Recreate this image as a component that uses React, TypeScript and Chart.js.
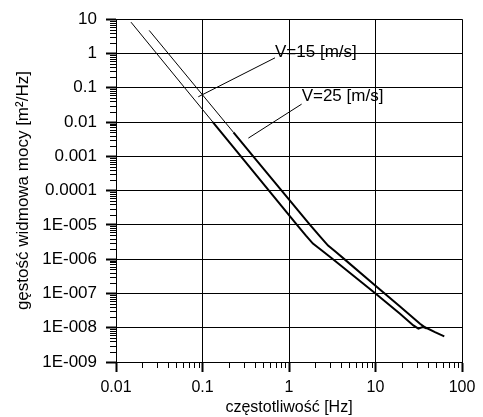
import React, { useEffect, useRef } from "react";
import { Chart, registerables } from "chart.js";

Chart.register(...registerables);

// ---- data ----
const seriesLabels = ["V=15 [m/s]", "V=25 [m/s]"];

const freq15 = [0.0149, 0.0622, 0.1316, 0.278, 1.23, 1.57, 1.89, 2.28, 3.12, 10, 19.2, 27.4, 31.3, 35.0, 39.1, 48.7, 62.4];
const psd15 = [8.2, 0.1, 0.01, 0.001, 1.02e-5, 4.84e-6, 2.84e-6, 1.97e-6, 1.06e-6, 1e-7, 2.55e-8, 1.17e-8, 9.4e-9, 1.05e-8, 9.8e-9, 7.4e-9, 5.6e-9];

const freq25 = [0.0242, 0.0855, 0.228, 0.386, 1.75, 2.28, 2.83, 3.49, 4.43, 10, 19.2, 32.7, 39.1];
const psd25 = [4.71, 0.1, 0.005, 0.001, 1e-5, 4.59e-6, 2.49e-6, 1.61e-6, 9.7e-7, 1.68e-7, 4.15e-8, 1.31e-8, 9.4e-9];

// annotation leaders: [f0, S0, f1, S1]
const leader15 = [0.689, 0.746, 0.0894, 0.0546];
const leader25 = [1.4, 0.0333, 0.339, 0.0034];
// annotation text anchors (left, baseline): [f, S]
const text15 = [0.689, 0.8];
const text25 = [1.4, 0.04];

const xTickValues = [0.01, 0.1, 1, 10, 100];
const xTickLabels = ["0.01", "0.1", "1", "10", "100"];
const yTickValues = [1e-9, 1e-8, 1e-7, 1e-6, 1e-5, 1e-4, 1e-3, 1e-2, 1e-1, 1, 10];
const yTickLabels = ["1E-009", "1E-008", "1E-007", "1E-006", "1E-005", "0.0001", "0.001", "0.01", "0.1", "1", "10"];

const xTitle = "częstotliwość [Hz]";
const yTitle = "gęstość widmowa mocy [m²/Hz]";

const FONT = "'Liberation Sans', Arial, sans-serif";

function toPoints(xs: number[], ys: number[]) {
  return xs.map((x, i) => ({ x, y: ys[i] }));
}

const extrasPlugin = {
  id: "extras",
  afterDraw(chart: any) {
    const ctx = chart.ctx as CanvasRenderingContext2D;
    const xs = chart.scales.x;
    const ys = chart.scales.y;
    const area = chart.chartArea;
    ctx.save();
    ctx.strokeStyle = "#000";
    ctx.lineWidth = 1;
    ctx.beginPath();
    for (let e = -2; e < 2; e++) {
      for (let m = 2; m <= 9; m++) {
        const px = Math.round(xs.getPixelForValue(m * Math.pow(10, e))) + 0.5;
        ctx.moveTo(px, area.bottom);
        ctx.lineTo(px, area.bottom + 6);
      }
    }
    for (let e = -9; e < 1; e++) {
      for (let m = 2; m <= 9; m++) {
        const py = Math.round(ys.getPixelForValue(m * Math.pow(10, e))) + 0.5;
        ctx.moveTo(area.left - 6, py);
        ctx.lineTo(area.left, py);
      }
    }
    ctx.stroke();

    ctx.fillStyle = "#000";
    ctx.font = `17px ${FONT}`;
    ctx.textAlign = "left";
    ctx.textBaseline = "alphabetic";
    ctx.fillText(seriesLabels[0], xs.getPixelForValue(text15[0]), ys.getPixelForValue(text15[1]));
    ctx.fillText(seriesLabels[1], xs.getPixelForValue(text25[0]), ys.getPixelForValue(text25[1]));
    ctx.restore();
  },
};

export default function App() {
  const ref = useRef<HTMLCanvasElement | null>(null);

  useEffect(() => {
    if (!ref.current) return;
    Chart.defaults.font.family = FONT;
    Chart.defaults.color = "#000";
    const chart = new Chart(ref.current, {
      type: "scatter",
      data: {
        datasets: [
          {
            label: seriesLabels[0],
            data: toPoints(freq15, psd15),
            showLine: true,
            borderColor: "#000",
            borderWidth: 1,
            pointRadius: 0,
            segment: { borderWidth: (c: any) => (c.p0.parsed.y < 0.012 ? 2 : 1) },
          },
          {
            label: seriesLabels[1],
            data: toPoints(freq25, psd25),
            showLine: true,
            borderColor: "#000",
            borderWidth: 1,
            pointRadius: 0,
            segment: { borderWidth: (c: any) => (c.p0.parsed.y < 0.006 ? 2 : 1) },
          },
          {
            label: "leader15",
            data: [{ x: leader15[0], y: leader15[1] }, { x: leader15[2], y: leader15[3] }],
            showLine: true,
            borderColor: "#000",
            borderWidth: 1,
            pointRadius: 0,
          },
          {
            label: "leader25",
            data: [{ x: leader25[0], y: leader25[1] }, { x: leader25[2], y: leader25[3] }],
            showLine: true,
            borderColor: "#000",
            borderWidth: 1,
            pointRadius: 0,
          },
        ],
      },
      options: {
        responsive: false,
        animation: false,
        devicePixelRatio: 1,
        events: [],
        layout: { padding: { top: 16, right: 21, left: 0, bottom: 0 } },
        plugins: { legend: { display: false }, tooltip: { enabled: false } },
        scales: {
          x: {
            type: "logarithmic",
            min: 0.01,
            max: 100,
            afterBuildTicks: (s: any) => {
              s.ticks = xTickValues.map((v) => ({ value: v }));
            },
            afterFit: (s: any) => {
              s.height = 55;
            },
            ticks: {
              autoSkip: false,
              maxRotation: 0,
              padding: 6,
              font: { size: 16 },
              color: "#000",
              callback: (_v: any, i: number) => xTickLabels[i],
            },
            grid: { color: "#000", lineWidth: 1, tickLength: 10, tickColor: "#000", tickWidth: 2, drawTicks: true },
            border: { color: "#000", width: 1 },
            title: { display: true, text: xTitle, font: { size: 16 }, color: "#000", padding: 0 },
          },
          y: {
            type: "logarithmic",
            min: 1e-9,
            max: 10,
            afterBuildTicks: (s: any) => {
              s.ticks = yTickValues.map((v) => ({ value: v }));
            },
            afterFit: (s: any) => {
              s.width = 116;
            },
            ticks: {
              autoSkip: false,
              padding: 9,
              font: { size: 17 },
              color: "#000",
              callback: (_v: any, i: number) => yTickLabels[i],
            },
            grid: { color: "#000", lineWidth: 1, tickLength: 10, tickColor: "#000", tickWidth: 2, drawTicks: true },
            border: { color: "#000", width: 1 },
            title: { display: true, text: yTitle, font: { size: 17 }, color: "#000", padding: { top: 13, bottom: 0 } },
          },
        },
      },
      plugins: [extrasPlugin],
    } as any);
    return () => chart.destroy();
  }, []);

  return (
    <div style={{ position: "absolute", left: 0, top: 0, width: 483, height: 417, background: "#fff" }}>
      <canvas ref={ref} width={483} height={417} style={{ display: "block" }} />
    </div>
  );
}
